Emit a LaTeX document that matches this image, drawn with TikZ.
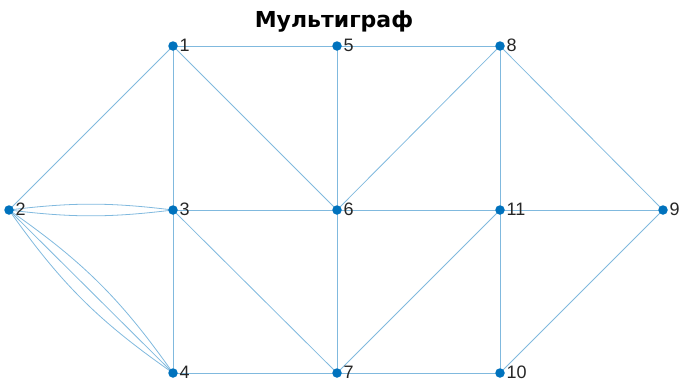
\documentclass[tikz,border=0pt]{standalone}
\usepackage{fontspec}
\setmainfont{Liberation Sans}
\newfontfamily\titlefont{DejaVu Sans}
\definecolor{mnode}{HTML}{0072BD}
\definecolor{medge}{HTML}{80B9DE}
\begin{document}
\begin{tikzpicture}[x=1pt,y=-1pt,
  vtx/.style={circle,fill=mnode,inner sep=0pt,minimum size=9.5pt},
  lbl/.style={anchor=west,inner sep=0pt,font=\fontsize{18}{18}\selectfont,text=black!85},
  edge/.style={draw=medge,line width=0.8pt}]
\useasboundingbox (0,0) rectangle (683,383);
\node[font=\titlefont\fontsize{22}{22}\selectfont\bfseries,anchor=base] (title) at (334,27) {Мультиграф};
\coordinate (p1) at (173,46);
\coordinate (p5) at (337,46);
\coordinate (p8) at (500,46);
\coordinate (p2) at (9,210);
\coordinate (p3) at (173,210);
\coordinate (p6) at (337,210);
\coordinate (p11) at (500,210);
\coordinate (p9) at (663,210);
\coordinate (p4) at (173,373);
\coordinate (p7) at (337,373);
\coordinate (p10) at (500,373);
\begin{scope}[edge]
\draw (p1) -- (p2);
\draw (p1) -- (p3);
\draw (p1) -- (p5);
\draw (p1) -- (p6);
\draw (p5) -- (p8);
\draw (p5) -- (p6);
\draw (p8) -- (p6);
\draw (p8) -- (p11);
\draw (p8) -- (p9);
\draw (p2) to[bend left=7] (p3);
\draw (p2) to[bend right=7] (p3);
\draw (p2) -- (p4);
\draw (p2) to[bend left=10] (p4);
\draw (p2) to[bend right=10] (p4);
\draw (p3) -- (p6);
\draw (p3) -- (p4);
\draw (p3) -- (p7);
\draw (p6) -- (p11);
\draw (p6) -- (p7);
\draw (p11) -- (p9);
\draw (p11) -- (p7);
\draw (p11) -- (p10);
\draw (p9) -- (p10);
\draw (p4) -- (p7);
\draw (p7) -- (p10);
\end{scope}
\foreach \n in {1,...,11} {
  \node[vtx] (v\n) at (p\n) {};
  \node[lbl] (l\n) at ([xshift=1.5pt,yshift=0.5pt]v\n.east) {\n};
}
\end{tikzpicture}
\end{document}
